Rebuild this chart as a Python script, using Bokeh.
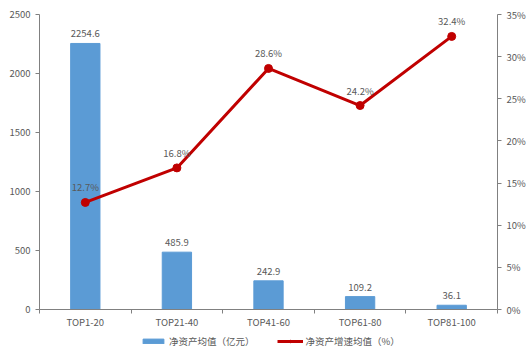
import numpy as np
from bokeh.plotting import figure
from bokeh.layouts import column
from bokeh.models import (Range1d, LinearAxis, FixedTicker, PrintfTickFormatter,
                          Legend, LegendItem, ColumnDataSource)
from bokeh.core.properties import value
from bokeh.embed import file_html
from bokeh.resources import INLINE

categories = ["TOP1-20", "TOP21-40", "TOP41-60", "TOP61-80", "TOP81-100"]
net_assets = [2254.6, 485.9, 242.9, 109.2, 36.1]
growth_pct = [12.7, 16.8, 28.6, 24.2, 32.4]
bar_name = "净资产均值（亿元）"
line_name = "净资产增速均值（%）"
left_ticks = [0, 500, 1000, 1500, 2000, 2500]
right_ticks = [0, 5, 10, 15, 20, 25, 30, 35]

FONT = "Noto Sans CJK SC"
TXT = "#595959"
AX = "#808080"
BAR_C = "#5B9BD5"
LINE_C = "#C00000"

n = len(categories)
xs = np.arange(n) + 0.5

src = ColumnDataSource(dict(
    x=xs, assets=net_assets, growth=growth_pct,
    alab=["%.1f" % v for v in net_assets],
    glab=["%.1f%%" % v for v in growth_pct],
))

p = figure(width=528, height=334, output_backend="svg", toolbar_location=None,
           x_range=Range1d(0, n), y_range=Range1d(0, 2500),
           min_border_left=39, min_border_right=31, min_border_top=14,
           min_border_bottom=25)
p.outline_line_color = None
p.xgrid.visible = False
p.ygrid.visible = False
p.extra_y_ranges = {"pct": Range1d(0, 35)}

p.vbar(x="x", top="assets", width=0.32, source=src, color=BAR_C)
p.line(x="x", y="growth", source=src, y_range_name="pct",
       line_color=LINE_C, line_width=3)
p.scatter(x="x", y="growth", source=src, y_range_name="pct",
          size=8, color=LINE_C)

p.text(x="x", y="assets", text="alab", source=src, y_offset=-6,
       text_align="center", text_baseline="bottom",
       text_font=value(FONT), text_font_size="9.5px", text_color=TXT)
p.text(x="x", y="growth", text="glab", source=src, y_range_name="pct",
       y_offset=-8, text_align="center", text_baseline="bottom",
       text_font=value(FONT), text_font_size="9.5px", text_color=TXT)

def style(ax):
    ax.axis_line_color = AX
    ax.major_tick_line_color = AX
    ax.minor_tick_line_color = AX
    ax.major_tick_in = 0
    ax.major_tick_out = 4
    ax.minor_tick_in = 0
    ax.minor_tick_out = 0
    ax.major_label_text_font = FONT
    ax.major_label_text_font_size = "9.5px"
    ax.major_label_text_color = TXT

ya = p.yaxis[0]
style(ya)
ya.ticker = FixedTicker(ticks=left_ticks)
ya.major_label_standoff = 5

ra = LinearAxis(y_range_name="pct", ticker=FixedTicker(ticks=right_ticks),
                formatter=PrintfTickFormatter(format="%d%%"))
style(ra)
ra.major_label_standoff = 5
p.add_layout(ra, "right")

xa = p.xaxis[0]
style(xa)
xa.ticker = FixedTicker(ticks=list(xs), minor_ticks=list(range(n + 1)))
xa.major_label_overrides = {float(x): c for x, c in zip(xs, categories)}
xa.major_tick_out = 0
xa.major_tick_line_color = None
xa.minor_tick_out = 4
xa.major_label_standoff = 1

# legend strip below the chart (its glyphs sit outside the visible range)
lf = figure(width=528, height=24, output_backend="svg", toolbar_location=None,
            x_range=Range1d(0, 1), y_range=Range1d(0, 1),
            min_border=0, x_axis_location=None, y_axis_location=None)
lf.outline_line_color = None
lf.xgrid.visible = False
lf.ygrid.visible = False
hidden = ColumnDataSource(dict(x=[-10, -11], y=[-10, -11], top=[-10, -11]))
lb = lf.vbar(x="x", top="top", width=0.1, source=hidden, color=BAR_C)
ll = lf.line(x="x", y="y", source=hidden, line_color=LINE_C, line_width=3)
lp = lf.scatter(x="x", y="y", source=hidden, size=6, color=LINE_C)

legend = Legend(items=[LegendItem(label=bar_name, renderers=[lb]),
                       LegendItem(label=line_name, renderers=[ll, lp])],
                orientation="horizontal", location=(101, 10),
                border_line_color=None, background_fill_alpha=0,
                label_text_font=FONT, label_text_font_size="9.5px",
                label_text_color=TXT, glyph_width=26, glyph_height=6,
                spacing=22, padding=2, margin=0, label_standoff=3)
lf.add_layout(legend, "center")

page = column(p, lf, spacing=0)
open("out.html", "w").write(file_html(page, INLINE))
